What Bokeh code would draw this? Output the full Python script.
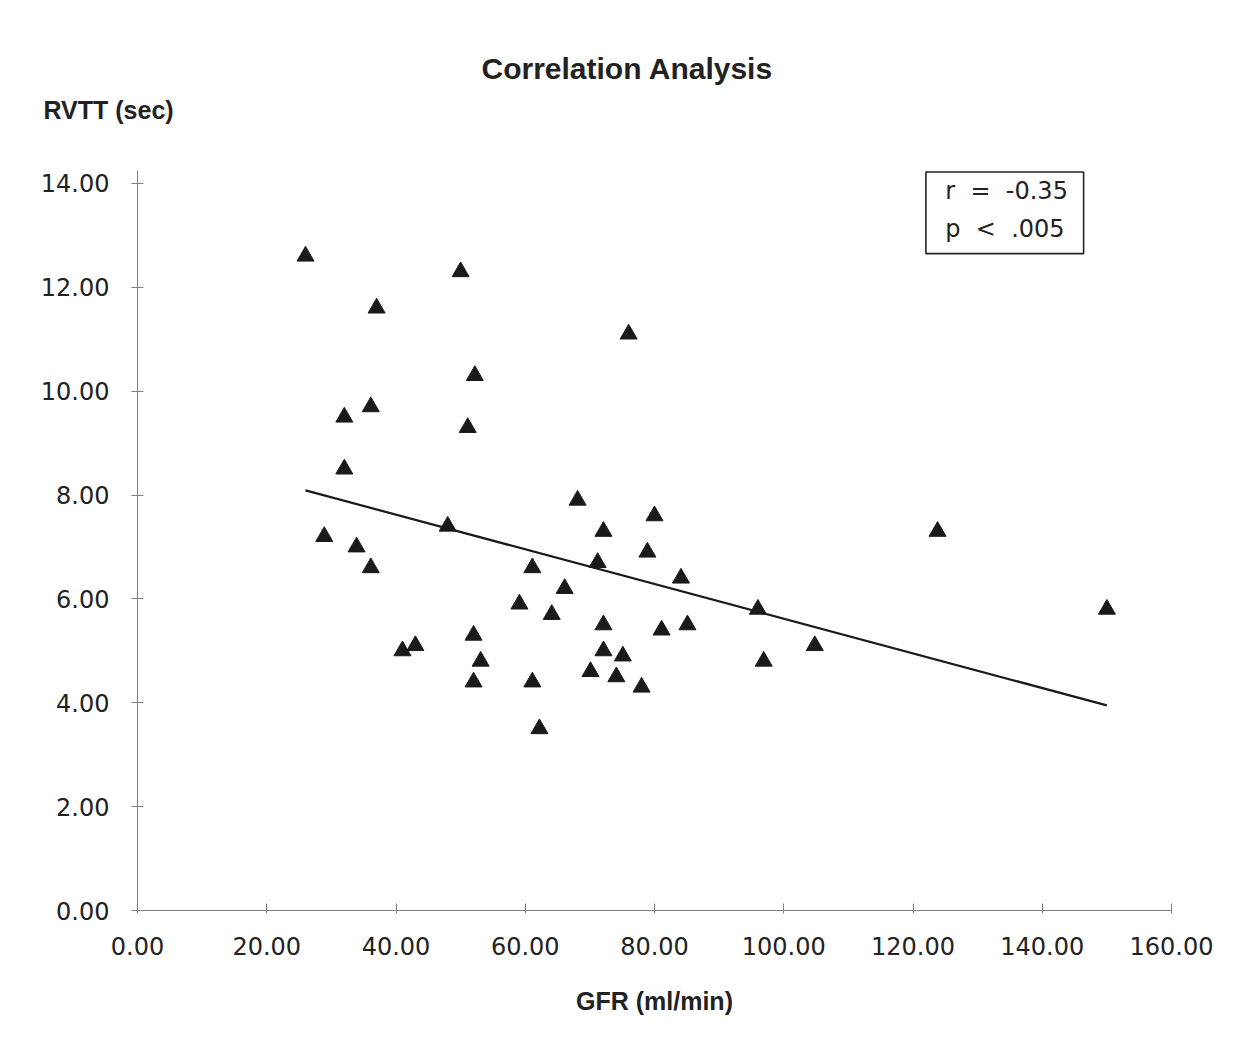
from bokeh.plotting import figure
from bokeh.models import Range1d, NumeralTickFormatter, FixedTicker, Label, Title
from bokeh.embed import file_html
from bokeh.resources import INLINE

# Data (GFR in ml/min, RVTT in sec)
gfr = [26.0, 50.0, 37.0, 76.0, 52.2, 36.1, 32.0, 51.1, 32.0, 68.1, 80.0, 48.0,
       72.1, 123.8, 28.9, 33.9, 78.9, 71.2, 61.1, 36.1, 84.1, 66.1, 59.1, 96.0,
       150.0, 64.1, 72.1, 85.1, 81.1, 52.0, 43.0, 41.0, 104.8, 72.1, 75.1, 53.1,
       96.9, 70.1, 74.1, 52.0, 61.1, 78.0, 62.2]
rvtt = [12.6, 12.3, 11.6, 11.1, 10.3, 9.7, 9.5, 9.3, 8.5, 7.9, 7.6, 7.4,
        7.3, 7.3, 7.2, 7.0, 6.9, 6.7, 6.6, 6.6, 6.4, 6.2, 5.9, 5.8,
        5.8, 5.7, 5.5, 5.5, 5.4, 5.3, 5.1, 5.0, 5.1, 5.0, 4.9, 4.8,
        4.8, 4.6, 4.5, 4.4, 4.4, 4.3, 3.5]

# Regression line end points
fit_x = [26.0, 150.0]
fit_y = [8.09, 3.95]

x_ticks = [0, 20, 40, 60, 80, 100, 120, 140, 160]
y_ticks = [0, 2, 4, 6, 8, 10, 12, 14]

FONT = "Liberation Sans"
TICK_FONT = "DejaVu Sans"
NB = "\u00a0"

p = figure(width=1235, height=1048, output_backend="svg", toolbar_location=None,
           title=None,
           x_range=Range1d(0, 160), y_range=Range1d(0, 14.25),
           min_border_left=137, min_border_right=64,
           min_border_top=170, min_border_bottom=138)
p.background_fill_color = "white"
p.border_fill_color = "white"
p.outline_line_color = None
p.grid.visible = False

for ax in (p.xaxis[0], p.yaxis[0]):
    ax.axis_line_color = "#808080"
    ax.axis_line_width = 1
    ax.major_tick_line_color = "#808080"
    ax.minor_tick_line_color = None
    ax.major_label_text_font = TICK_FONT
    ax.major_label_text_font_size = "24px"
    ax.major_label_text_color = "#222222"
    ax.formatter = NumeralTickFormatter(format="0.00")

p.xaxis[0].ticker = FixedTicker(ticks=x_ticks)
p.yaxis[0].ticker = FixedTicker(ticks=y_ticks)
p.xaxis[0].major_tick_in = 7
p.xaxis[0].major_tick_out = 3
p.yaxis[0].major_tick_in = 6
p.yaxis[0].major_tick_out = 6
p.xaxis[0].major_label_standoff = 23
p.yaxis[0].major_label_standoff = 22

p.xaxis[0].axis_label = "GFR (ml/min)"
p.xaxis[0].axis_label_text_font = FONT
p.xaxis[0].axis_label_text_font_style = "bold"
p.xaxis[0].axis_label_text_font_size = "25px"
p.xaxis[0].axis_label_text_color = "#222222"
p.xaxis[0].axis_label_standoff = 29

# regression line
p.line(fit_x, fit_y, line_color="#1a1a1a", line_width=2.2)

# points
p.scatter(gfr, rvtt, marker="triangle", size=17, fill_color="#1a1a1a",
          line_color="#1a1a1a")

# stats box
p.quad(left=[122.0], right=[146.4], bottom=[12.65], top=[14.22],
       fill_color="white", line_color="#222222", line_width=1.6)
p.add_layout(Label(x=125.0, y=13.86, text="r" + NB * 2 + "=" + NB * 2 + "-0.35",
                   text_font=TICK_FONT, text_font_size="24px", text_baseline="middle",
                   text_color="#222222"))
p.add_layout(Label(x=125.0, y=13.13, text="p" + NB * 2 + "<" + NB * 2 + ".005",
                   text_font=TICK_FONT, text_font_size="24px", text_baseline="middle",
                   text_color="#222222"))

# titles stacked above the frame (first added is closest to the frame)
p.add_layout(Title(text="RVTT (sec)", align="left", offset=-94, standoff=93,
                   text_font=FONT, text_font_size="25px", text_font_style="bold",
                   text_color="#222222"), "above")
p.add_layout(Title(text="Correlation Analysis", align="left", offset=344,
                   standoff=-75, text_font=FONT, text_font_size="30px",
                   text_font_style="bold", text_color="#222222"), "above")

open("out.html", "w").write(file_html(p, INLINE))
